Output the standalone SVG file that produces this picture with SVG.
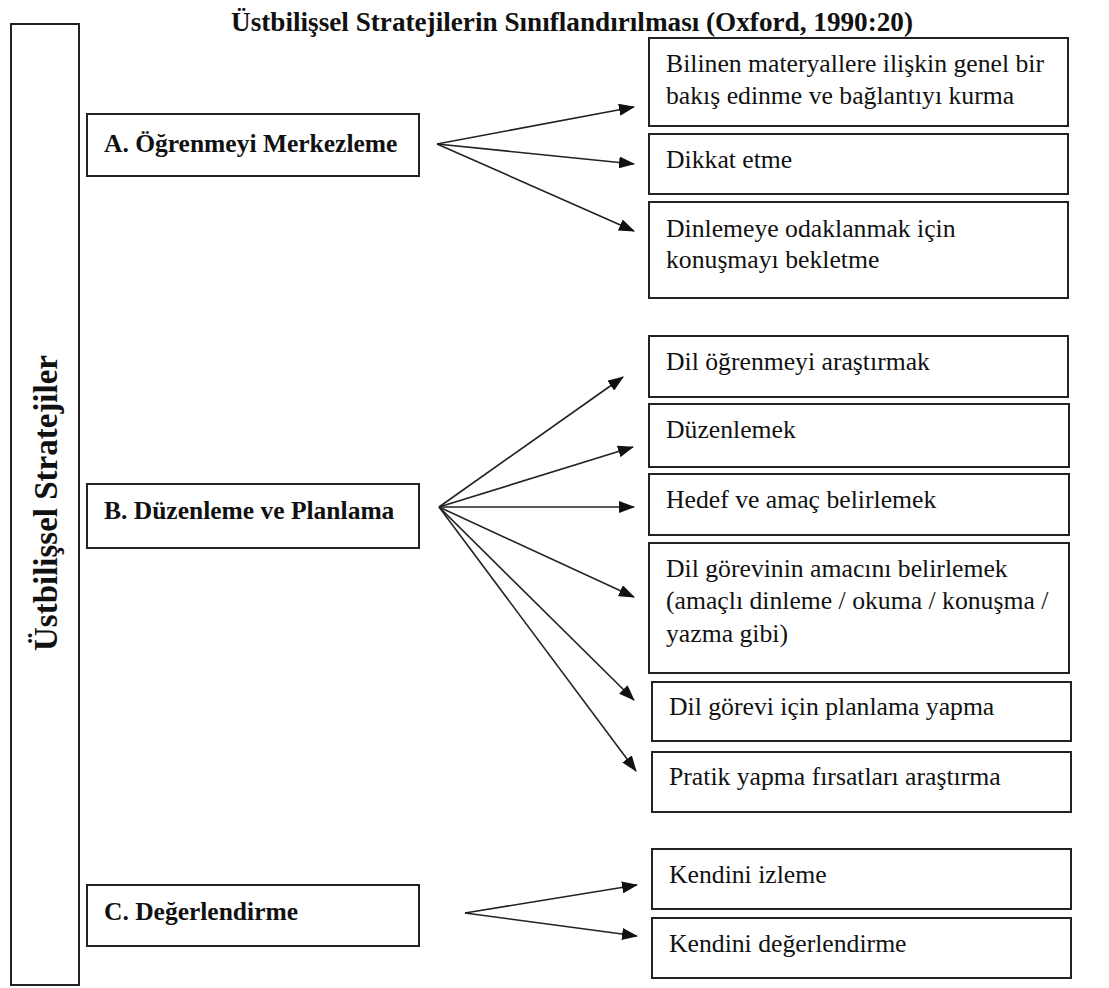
<svg xmlns="http://www.w3.org/2000/svg" width="1109" height="988" viewBox="0 0 1109 988">
<style>
.box{fill:#fff;stroke:#222;stroke-width:2}
.t{font-family:'Liberation Serif','Times New Roman',serif;font-size:25.7px;fill:#111}
.b{font-family:'Liberation Serif','Times New Roman',serif;font-size:25.5px;font-weight:bold;fill:#111}
.c{stroke:#222;stroke-width:1.6;fill:none;marker-end:url(#ah)}
</style>
<defs>
<marker id="ah" markerUnits="userSpaceOnUse" markerWidth="16" markerHeight="12" refX="15" refY="6" orient="auto">
<path d="M0,0 L16,6 L0,12 Z" fill="#111"/>
</marker>
</defs>
<rect width="1109" height="988" fill="#fff"/>
<text class="b" x="572" y="31" text-anchor="middle" style="font-size:27.2px">Üstbilişsel Stratejilerin Sınıflandırılması (Oxford, 1990:20)</text>
<g id="root">
<rect class="box" x="11" y="24" width="68" height="961"/>
<text class="b" transform="translate(57,503) rotate(-90)" text-anchor="middle" style="font-size:33px">Üstbilişsel  Stratejiler</text>
</g>
<g id="nodeA"><rect class="box" x="87" y="114" width="332" height="62"/><text class="b" x="104" y="152">A. Öğrenmeyi Merkezleme</text></g>
<g id="nodeB"><rect class="box" x="87" y="484" width="332" height="64"/><text class="b" x="104" y="519">B. Düzenleme ve Planlama</text></g>
<g id="nodeC"><rect class="box" x="87" y="885" width="332" height="61"/><text class="b" x="104" y="920">C. Değerlendirme</text></g>
<g id="a1"><rect class="box" x="649" y="38" width="419" height="88"/><text class="t" x="666" y="72">Bilinen materyallere ilişkin genel bir</text><text class="t" x="666" y="104">bakış edinme ve bağlantıyı kurma</text></g>
<g id="a2"><rect class="box" x="649" y="134" width="419" height="60"/><text class="t" x="666" y="168">Dikkat etme</text></g>
<g id="a3"><rect class="box" x="649" y="202" width="419" height="96"/><text class="t" x="666" y="237">Dinlemeye odaklanmak için</text><text class="t" x="666" y="268">konuşmayı bekletme</text></g>
<g id="b1"><rect class="box" x="649" y="336" width="419" height="61"/><text class="t" x="666" y="370">Dil öğrenmeyi araştırmak</text></g>
<g id="b2"><rect class="box" x="649" y="404" width="420" height="63"/><text class="t" x="666" y="438">Düzenlemek</text></g>
<g id="b3"><rect class="box" x="649" y="474" width="420" height="61"/><text class="t" x="666" y="508">Hedef ve amaç belirlemek</text></g>
<g id="b4"><rect class="box" x="649" y="543" width="420" height="130"/><text class="t" x="666" y="577">Dil görevinin amacını belirlemek</text><text class="t" x="666" y="609">(amaçlı dinleme / okuma / konuşma /</text><text class="t" x="666" y="642">yazma gibi)</text></g>
<g id="b5"><rect class="box" x="652" y="682" width="419" height="59"/><text class="t" x="669" y="715">Dil görevi için planlama yapma</text></g>
<g id="b6"><rect class="box" x="652" y="752" width="419" height="60"/><text class="t" x="669" y="785">Pratik yapma fırsatları araştırma</text></g>
<g id="c1"><rect class="box" x="652" y="849" width="419" height="60"/><text class="t" x="669" y="883">Kendini izleme</text></g>
<g id="c2"><rect class="box" x="652" y="918" width="419" height="60"/><text class="t" x="669" y="952">Kendini değerlendirme</text></g>
<g id="connectors">
<line class="c" x1="437" y1="144" x2="634" y2="107"/>
<line class="c" x1="437" y1="144" x2="634" y2="164"/>
<line class="c" x1="437" y1="144" x2="634" y2="231"/>
<line class="c" x1="439" y1="507" x2="623" y2="377"/>
<line class="c" x1="439" y1="507" x2="633" y2="447"/>
<line class="c" x1="439" y1="507" x2="634" y2="507"/>
<line class="c" x1="439" y1="507" x2="634" y2="597"/>
<line class="c" x1="439" y1="507" x2="634" y2="700"/>
<line class="c" x1="439" y1="507" x2="636" y2="771"/>
<line class="c" x1="465" y1="913" x2="637" y2="885"/>
<line class="c" x1="465" y1="913" x2="637" y2="936"/>
</g>
</svg>
